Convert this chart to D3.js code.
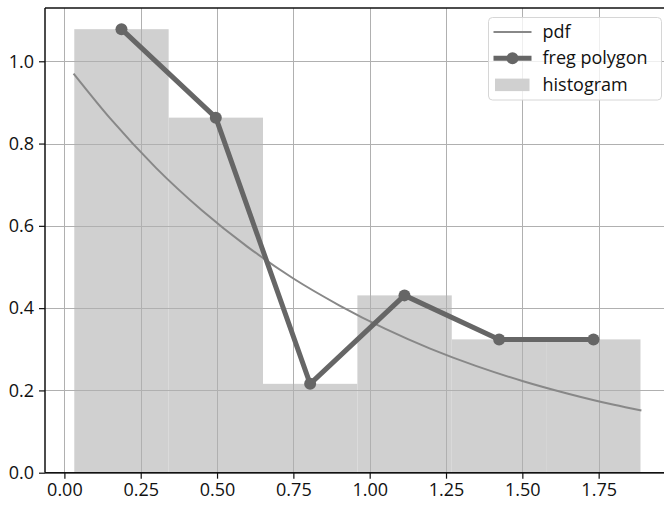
<!DOCTYPE html>
<html>
<head>
<meta charset="utf-8">
<script src="https://cdn.jsdelivr.net/npm/d3@7"></script>
<style>
  html, body { margin: 0; padding: 0; background: #fff; }
  svg { display: block; }
  text { font-family: "Open Sans", "Noto Sans", sans-serif; fill: #111; }
</style>
</head>
<body>
<svg id="chart" width="664" height="505"></svg>
<script>
// Histogram: bin edges and density heights
const binEdges = [0.0324, 0.3415, 0.6506, 0.9597, 1.2688, 1.5779, 1.887];
const histDensity = [1.078, 0.863, 0.216, 0.431, 0.324, 0.324];

// Frequency polygon: bin centres and their densities
const freqX = [0.187, 0.496, 0.805, 1.114, 1.424, 1.733];
const freqY = [1.078, 0.863, 0.216, 0.431, 0.324, 0.324];

// Probability density curve, sampled points
const pdfX = [0.03, 0.15, 0.30, 0.45, 0.60, 0.75, 0.90, 1.05, 1.20, 1.35, 1.50, 1.65, 1.80, 1.89];
const pdfY = [0.970, 0.861, 0.741, 0.638, 0.549, 0.472, 0.407, 0.350, 0.301, 0.259, 0.223, 0.192, 0.165, 0.151];

// Tick values
const xTicks = [0, 0.25, 0.5, 0.75, 1.0, 1.25, 1.5, 1.75];
const yTicks = [0, 0.2, 0.4, 0.6, 0.8, 1.0];

const legendItems = ["pdf", "freg polygon", "histogram"];

const svg = d3.select("#chart");

const x = d3.scaleLinear().domain([-0.0635, 1.983]).range([45, 669.8]);
const y = d3.scaleLinear().domain([0, 1.1295]).range([472.7, 8]);

const plotLeft = x.range()[0], plotRight = x.range()[1];
const plotTop = y.range()[1], plotBottom = y.range()[0];

// Histogram bars
const bins = histDensity.map((d, i) => ({ x0: binEdges[i], x1: binEdges[i + 1], h: d }));
svg.append("g").selectAll("rect").data(bins).join("rect")
  .attr("x", d => x(d.x0))
  .attr("width", d => x(d.x1) - x(d.x0))
  .attr("y", d => y(d.h))
  .attr("height", d => y(0) - y(d.h))
  .attr("fill", "#d0d0d0");

// Grid
const grid = svg.append("g").attr("stroke", "#b0b0b0").attr("stroke-width", 1);
grid.selectAll("line.v").data(xTicks).join("line").attr("class", "v")
  .attr("x1", d => Math.round(x(d)) + 0.5).attr("x2", d => Math.round(x(d)) + 0.5)
  .attr("y1", plotTop).attr("y2", plotBottom);
grid.selectAll("line.h").data(yTicks).join("line").attr("class", "h")
  .attr("y1", d => Math.round(y(d)) + 0.5).attr("y2", d => Math.round(y(d)) + 0.5)
  .attr("x1", plotLeft).attr("x2", plotRight);

// PDF curve
const pdfPts = pdfX.map((v, i) => [v, pdfY[i]]);
svg.append("path")
  .datum(pdfPts)
  .attr("fill", "none")
  .attr("stroke", "#888")
  .attr("stroke-width", 2)
  .attr("d", d3.line().x(d => x(d[0])).y(d => y(d[1])).curve(d3.curveMonotoneX));

// Frequency polygon
const freqPts = freqX.map((v, i) => [v, freqY[i]]);
svg.append("path")
  .datum(freqPts)
  .attr("fill", "none")
  .attr("stroke", "#666")
  .attr("stroke-width", 5)
  .attr("stroke-linejoin", "round")
  .attr("d", d3.line().x(d => x(d[0])).y(d => y(d[1])));
svg.append("g").selectAll("circle").data(freqPts).join("circle")
  .attr("cx", d => x(d[0])).attr("cy", d => y(d[1])).attr("r", 6)
  .attr("fill", "#666");

// Axes
const xAxis = d3.axisBottom(x).tickValues(xTicks).tickFormat(d3.format(".2f"))
  .tickSize(6).tickPadding(5);
const gx = svg.append("g").attr("transform", `translate(0,${plotBottom})`).call(xAxis);
const yAxis = d3.axisLeft(y).tickValues(yTicks).tickFormat(d3.format(".1f"))
  .tickSize(6).tickPadding(5);
const gy = svg.append("g").attr("transform", `translate(${plotLeft},0)`).call(yAxis);
[gx, gy].forEach(g => {
  g.select(".domain").remove();
  g.selectAll(".tick line").attr("stroke", "#111").attr("stroke-width", 1.2);
  g.selectAll(".tick text").attr("font-size", 18).attr("fill", "#111")
    .style("font-family", "'Open Sans', 'Noto Sans', sans-serif");
});

// Spines (the right one lies past the drawing edge)
svg.append("g").attr("stroke", "#111").attr("stroke-width", 1.5).attr("fill", "none")
  .call(g => {
    g.append("line").attr("x1", plotLeft).attr("x2", plotLeft).attr("y1", plotTop).attr("y2", plotBottom);
    g.append("line").attr("x1", plotLeft).attr("x2", plotRight).attr("y1", plotBottom).attr("y2", plotBottom);
    g.append("line").attr("x1", plotLeft).attr("x2", plotRight).attr("y1", plotTop).attr("y2", plotTop);
  });

// Legend
const lg = svg.append("g").attr("transform", "translate(488.5,17.5)");
lg.append("rect").attr("width", 173).attr("height", 82.5).attr("rx", 4)
  .attr("fill", "#fff").attr("fill-opacity", 0.8).attr("stroke", "#d6d6d6");
const rowY = i => 14.5 + i * 26.3;
lg.append("line").attr("x1", 5).attr("x2", 43).attr("y1", rowY(0)).attr("y2", rowY(0))
  .attr("stroke", "#888").attr("stroke-width", 2);
lg.append("line").attr("x1", 5).attr("x2", 43).attr("y1", rowY(1)).attr("y2", rowY(1))
  .attr("stroke", "#666").attr("stroke-width", 5);
lg.append("circle").attr("cx", 24).attr("cy", rowY(1)).attr("r", 6).attr("fill", "#666");
lg.append("rect").attr("x", 6.5).attr("y", rowY(2) - 6).attr("width", 34.5).attr("height", 12.5)
  .attr("fill", "#d0d0d0");
lg.selectAll("text").data(legendItems).join("text")
  .attr("x", 54).attr("y", (d, i) => rowY(i)).attr("dy", "0.33em")
  .attr("font-size", 18).text(d => d);
</script>
</body>
</html>
